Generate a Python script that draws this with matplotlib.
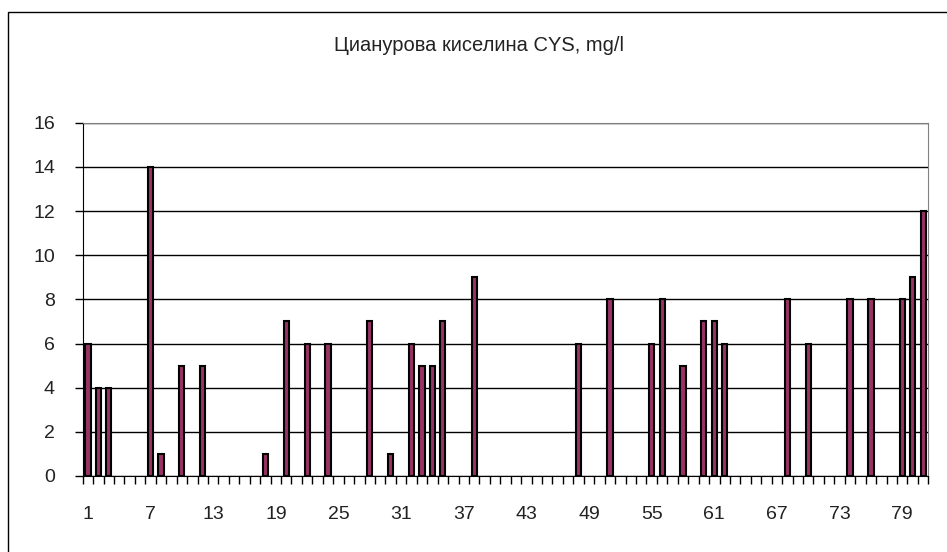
import numpy as np
import matplotlib
matplotlib.use("Agg")
import matplotlib.pyplot as plt
from matplotlib.patches import Rectangle

# sample numbers (1..81) and measured cyanuric acid values, mg/l
samples = np.arange(1, 82)
nonzero = {1: 6, 2: 4, 3: 4, 7: 14, 8: 1, 10: 5, 12: 5, 18: 1, 20: 7, 22: 6,
           24: 6, 28: 7, 30: 1, 32: 6, 33: 5, 34: 5, 35: 7, 38: 9, 48: 6,
           51: 8, 55: 6, 56: 8, 58: 5, 60: 7, 61: 7, 62: 6, 68: 8, 70: 6,
           74: 8, 76: 8, 79: 8, 80: 9, 81: 12}
values = [nonzero.get(s, 0) for s in samples]
tick_labels = [str(s) for s in samples if (s - 1) % 6 == 0]
title = "Цианурова киселина CYS, mg/l"

plt.rcParams["font.family"] = ["Liberation Sans", "DejaVu Sans"]

fig = plt.figure(figsize=(9.47, 5.52), dpi=100)
ax = fig.add_axes([0.0873, 0.1377, 0.8930, 0.6400])

x = np.arange(len(samples))
# zero values get no outline, as in the original (Excel) chart
lws = [1.5 if v else 0 for v in values]
ax.bar(x, values, width=0.5, color="#993366", edgecolor="black", linewidth=lws, zorder=3)

ax.set_xlim(-0.5, len(samples) - 0.5)
ax.set_ylim(0, 16)
ax.set_yticks(np.arange(0, 17, 2))
ax.yaxis.grid(True, color="black", linewidth=1)
ax.set_axisbelow(True)

major = [i for i in x if i % 6 == 0]
ax.set_xticks(major)
ax.set_xticklabels(tick_labels)
ax.set_xticks(np.arange(-0.5, len(samples)), minor=True)
ax.tick_params(axis="x", which="major", length=0, pad=21.5, labelsize=14, labelcolor="#222222")
ax.tick_params(axis="x", which="minor", length=6, width=1, direction="out")
ax.tick_params(axis="y", length=6, width=1, pad=14, labelsize=14, labelcolor="#222222")

for side in ("top", "right"):
    ax.spines[side].set_color("#808080")
ax.spines["left"].set_color("black")
ax.spines["bottom"].set_color("black")

fig.text(0.506, 0.918, title, ha="center", va="center", fontsize=14.5, color="#222222")

# outer chart border (only top and left edges fall inside the image)
fig.patches.append(Rectangle((8 / 947, -0.1), 1.2, 1 - 12 / 552 + 0.1,
                             transform=fig.transFigure, fill=False,
                             edgecolor="black", linewidth=1))

fig.savefig("out.png", dpi=100)
